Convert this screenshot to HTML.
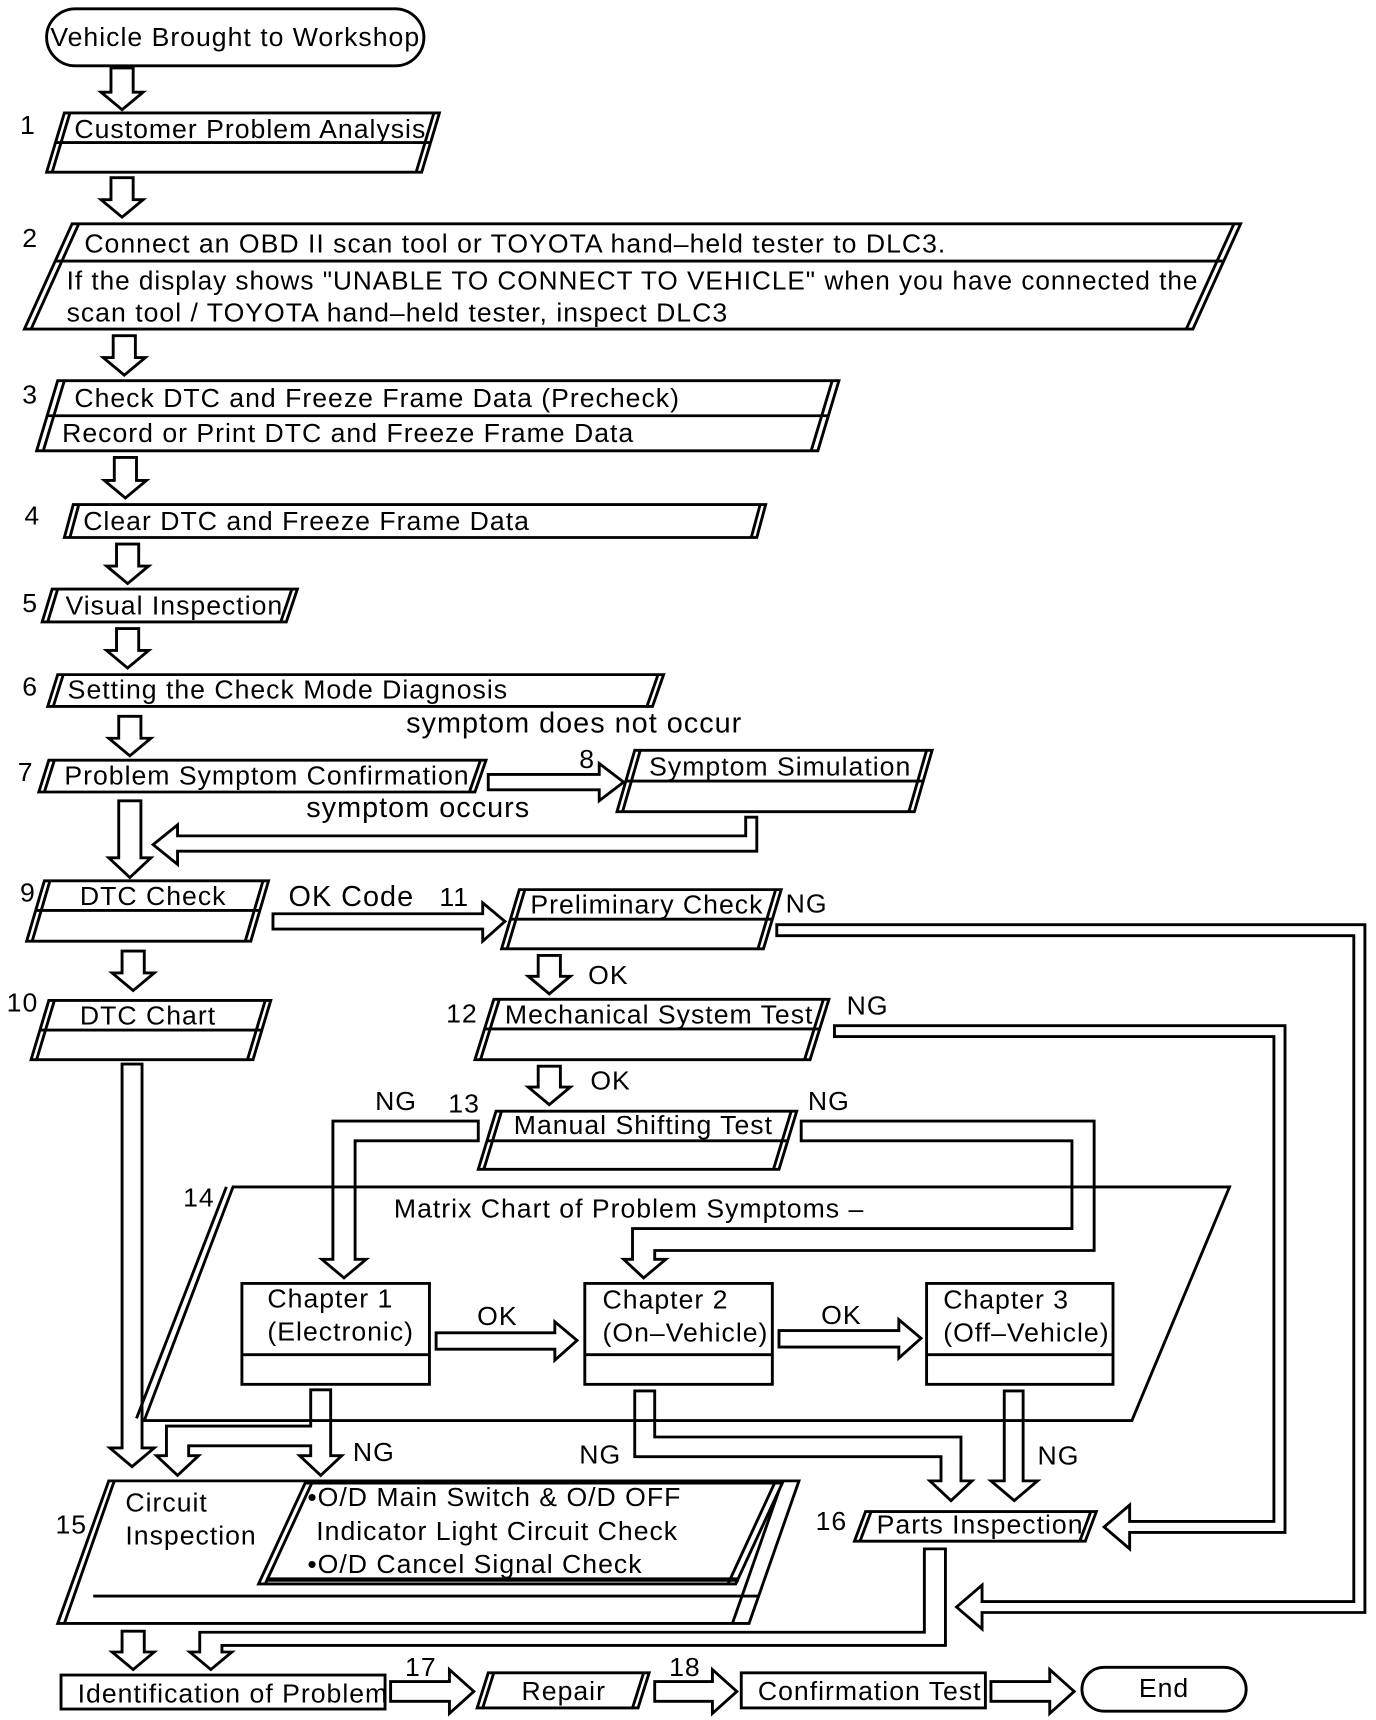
<!DOCTYPE html>
<html><head><meta charset="utf-8">
<style>
html,body{margin:0;padding:0;background:#fff;}
svg{display:block;}
text{font-family:"Liberation Sans",Arial,sans-serif;font-size:24px;letter-spacing:0.9px;fill:#000;}
text.big{font-size:26px;}
</style></head>
<body>
<svg width="1376" height="1720" viewBox="0 0 1240 1568" preserveAspectRatio="none" xmlns="http://www.w3.org/2000/svg">
<g fill="#fff" stroke="#000" stroke-width="2.6" stroke-linejoin="miter">
<rect x="42" y="8" width="340" height="52" rx="26"/>
<path d="M100 62V84H91L110 100L129 84H120V62Z"/>
<path d="M100 162V182H91L110 198L129 182H120V162Z"/>
<path d="M102 306V326H93L112 342L131 326H122V306Z"/>
<path d="M103 417V438H94L113 454L132 438H123V417Z"/>
<path d="M105 496V516H96L115 532L134 516H125V496Z"/>
<path d="M105 573V593H96L115 609L134 593H125V573Z"/>
<path d="M107 653V673H98L117 689L136 673H127V653Z"/>
<path d="M107 730V782H98L117 800L136 782H127V730Z"/>
<path d="M110 867V887H101L120 903L139 887H130V867Z"/>
<path d="M485 871V890H476L495 906L514 890H505V871Z"/>
<path d="M485 972V991H476L495 1007L514 991H505V972Z"/>
<path d="M110 970V1320H99L119 1337L139 1320H128V970Z"/>
<path d="M110 1487V1506H101L120 1522L139 1506H130V1487Z"/>
<path d="M905 1268V1350H893L914 1368L935 1350H922V1268Z"/>
<path d="M440 706H540V696L562 713L540 730V720H440Z"/>
<path d="M246 833H435V823L455 840L435 858V847H246Z"/>
<path d="M393 1215H500V1205L520 1222L500 1240V1230H393Z"/>
<path d="M702 1213H810V1203L830 1220L810 1238V1228H702Z"/>
<path d="M352 1533H405V1522L427 1542L405 1562V1551H352Z"/>
<path d="M590 1533H642V1522L664 1542L642 1562V1551H590Z"/>
<path d="M893 1533H946V1522L968 1542L946 1562V1551H893Z"/>
<path d="M672 745V762H160V752L138 770L160 788V776H682V745Z"/>
<path d="M700 843H1230V1470H885V1485L862 1465L885 1445V1460H1220V853H700Z"/>
<path d="M752 935H1158V1397H1018V1412L995 1392L1018 1372V1387H1148V945H752Z"/>
<path d="M431 1022H300V1148H290L310 1165L330 1148H320V1040H431Z"/>
<path d="M722 1022H986V1140H590V1148H600L580 1165L562 1148H570V1120H966V1040H722Z"/>
<path d="M280 1267V1300H150V1327H141L160 1345L179 1327H170V1318H280V1327H270L289 1345L308 1327H298V1267Z"/>
<path d="M572 1268V1328H848V1350H838L857 1368L876 1350H866V1310H590V1268Z"/>
<path d="M833 1412V1488H180V1506H171L190 1522L209 1506H200V1500H852V1412Z"/>
</g>

<g fill="none" stroke="#000" stroke-width="2.6">
<polygon points="58,103 396,103 380,157 42,157" fill="#fff"/>
<line x1="50" y1="130" x2="388" y2="130"/>
<line x1="63" y1="103" x2="47" y2="157"/><line x1="391" y1="103" x2="375" y2="157"/>
<polygon points="65,204 1118,204 1075,300 22,300" fill="#fff"/>
<line x1="50" y1="238" x2="1103" y2="238"/>
<line x1="71" y1="204" x2="28" y2="300"/><line x1="1112" y1="204" x2="1069" y2="300"/>
<polygon points="52,347 756,347 737,411 33,411" fill="#fff"/>
<line x1="43" y1="379" x2="747" y2="379"/>
<line x1="58" y1="347" x2="39" y2="411"/><line x1="750" y1="347" x2="731" y2="411"/>
<polygon points="66,460 690,460 682,490 58,490" fill="#fff"/>
<line x1="71" y1="460" x2="63" y2="490"/><line x1="685" y1="460" x2="677" y2="490"/>
<polygon points="47,537 268,537 258,567 38,567" fill="#fff"/>
<line x1="52" y1="537" x2="43" y2="567"/><line x1="263" y1="537" x2="253" y2="567"/>
<polygon points="52,615 598,615 588,644 43,644" fill="#fff"/>
<line x1="57" y1="615" x2="48" y2="644"/><line x1="593" y1="615" x2="583" y2="644"/>
<polygon points="44,693 438,693 428,722 35,722" fill="#fff"/>
<line x1="49" y1="693" x2="40" y2="722"/><line x1="433" y1="693" x2="423" y2="722"/>
<polygon points="572,684 840,684 824,740 556,740" fill="#fff"/>
<line x1="564" y1="712" x2="832" y2="712"/>
<line x1="577" y1="684" x2="561" y2="740"/><line x1="835" y1="684" x2="819" y2="740"/>
<polygon points="40,803 242,803 226,858 24,858" fill="#fff"/>
<line x1="32" y1="830" x2="234" y2="830"/>
<line x1="45" y1="803" x2="29" y2="858"/><line x1="237" y1="803" x2="221" y2="858"/>
<polygon points="44,912 244,912 228,966 28,966" fill="#fff"/>
<line x1="36" y1="939" x2="236" y2="939"/>
<line x1="49" y1="912" x2="33" y2="966"/><line x1="239" y1="912" x2="223" y2="966"/>
<polygon points="468,811 704,811 688,865 452,865" fill="#fff"/>
<line x1="460" y1="838" x2="696" y2="838"/>
<line x1="473" y1="811" x2="457" y2="865"/><line x1="699" y1="811" x2="683" y2="865"/>
<polygon points="445,911 747,911 730,966 428,966" fill="#fff"/>
<line x1="437" y1="938" x2="739" y2="938"/>
<line x1="450" y1="911" x2="433" y2="966"/><line x1="742" y1="911" x2="725" y2="966"/>
<polygon points="447,1013 718,1013 702,1066 431,1066" fill="#fff"/>
<line x1="439" y1="1040" x2="710" y2="1040"/>
<line x1="452" y1="1013" x2="436" y2="1066"/><line x1="713" y1="1013" x2="697" y2="1066"/>
<polygon points="210,1082 1108,1082 1020,1295 130,1295"/>
<line x1="204" y1="1082" x2="123" y2="1293"/>
<rect x="218" y="1170" width="169" height="92" fill="#fff"/><line x1="218" y1="1235" x2="387" y2="1235"/>
<rect x="527" y="1170" width="169" height="92" fill="#fff"/><line x1="527" y1="1235" x2="696" y2="1235"/>
<rect x="835" y="1170" width="168" height="92" fill="#fff"/><line x1="835" y1="1235" x2="1003" y2="1235"/>
<polygon points="98,1350 720,1350 675,1480 52,1480" fill="#fff"/>
<line x1="103" y1="1350" x2="58" y2="1480"/>
<line x1="84" y1="1455" x2="684" y2="1455"/>
<line x1="705" y1="1350" x2="660" y2="1480"/>
<polygon points="275,1352 705,1352 663,1444 233,1444" fill="#fff"/>
<line x1="281" y1="1352" x2="239" y2="1444"/>
<line x1="240" y1="1440" x2="666" y2="1440" stroke-width="4"/>
<line x1="698" y1="1352" x2="656" y2="1444"/>
<polygon points="780,1378 988,1378 978,1405 770,1405" fill="#fff"/>
<line x1="785" y1="1378" x2="775" y2="1405"/><line x1="983" y1="1378" x2="973" y2="1405"/>
<rect x="55" y="1527" width="292" height="31" fill="#fff"/>
<polygon points="440,1525 585,1525 575,1557 430,1557" fill="#fff"/>
<line x1="445" y1="1525" x2="435" y2="1557"/><line x1="580" y1="1525" x2="570" y2="1557"/>
<rect x="668" y="1525" width="220" height="32" fill="#fff"/>
<rect x="975" y="1520" width="148" height="40" rx="20" fill="#fff"/>
</g>

<g>
<text x="212" y="42" text-anchor="middle">Vehicle Brought to Workshop</text>
<text x="18" y="122">1</text>
<text x="67" y="126">Customer Problem Analysis</text>
<text x="20" y="225">2</text>
<text x="76" y="230">Connect an OBD II scan tool or TOYOTA hand–held tester to DLC3.</text>
<text x="60" y="264" textLength="1020" lengthAdjust="spacingAndGlyphs">If the display shows "UNABLE TO CONNECT TO VEHICLE" when you have connected the</text>
<text x="60" y="293">scan tool / TOYOTA hand–held tester, inspect DLC3</text>
<text x="20" y="368">3</text>
<text x="67" y="371">Check DTC and Freeze Frame Data (Precheck)</text>
<text x="56" y="403">Record or Print DTC and Freeze Frame Data</text>
<text x="22" y="478">4</text>
<text x="75" y="483">Clear DTC and Freeze Frame Data</text>
<text x="20" y="558">5</text>
<text x="59" y="560">Visual Inspection</text>
<text x="20" y="634">6</text>
<text x="61" y="637">Setting the Check Mode Diagnosis</text>
<text x="366" y="668" class="big">symptom does not occur</text>
<text x="16" y="712">7</text>
<text x="58" y="715">Problem Symptom Confirmation</text>
<text x="522" y="700">8</text>
<text x="585" y="707">Symptom Simulation</text>
<text x="276" y="745" class="big">symptom occurs</text>
<text x="18" y="822">9</text>
<text x="72" y="825">DTC Check</text>
<text x="260" y="826" class="big">OK Code</text>
<text x="396" y="826">11</text>
<text x="478" y="833">Preliminary Check</text>
<text x="708" y="832">NG</text>
<text x="530" y="897">OK</text>
<text x="6" y="922">10</text>
<text x="72" y="934">DTC Chart</text>
<text x="402" y="932">12</text>
<text x="455" y="933">Mechanical System Test</text>
<text x="763" y="925">NG</text>
<text x="532" y="993">OK</text>
<text x="338" y="1012">NG</text>
<text x="404" y="1014">13</text>
<text x="463" y="1034">Manual Shifting Test</text>
<text x="728" y="1012">NG</text>
<text x="165" y="1100">14</text>
<text x="355" y="1110">Matrix Chart of Problem Symptoms –</text>
<text x="241" y="1192">Chapter 1</text>
<text x="241" y="1222">(Electronic)</text>
<text x="543" y="1193">Chapter 2</text>
<text x="543" y="1223">(On–Vehicle)</text>
<text x="850" y="1193">Chapter 3</text>
<text x="850" y="1223">(Off–Vehicle)</text>
<text x="430" y="1208">OK</text>
<text x="740" y="1207">OK</text>
<text x="318" y="1332">NG</text>
<text x="522" y="1334">NG</text>
<text x="935" y="1335">NG</text>
<text x="50" y="1398">15</text>
<text x="113" y="1378">Circuit</text>
<text x="113" y="1408">Inspection</text>
<text x="277" y="1373">•O/D Main Switch &amp; O/D OFF</text>
<text x="285" y="1404">Indicator Light Circuit Check</text>
<text x="277" y="1434">•O/D Cancel Signal Check</text>
<text x="735" y="1395">16</text>
<text x="790" y="1398">Parts Inspection</text>
<text x="70" y="1552">Identification of Problem</text>
<text x="365" y="1528">17</text>
<text x="470" y="1550">Repair</text>
<text x="603" y="1528">18</text>
<text x="683" y="1550">Confirmation Test</text>
<text x="1049" y="1547" text-anchor="middle">End</text>
</g>
</svg>
</body></html>
